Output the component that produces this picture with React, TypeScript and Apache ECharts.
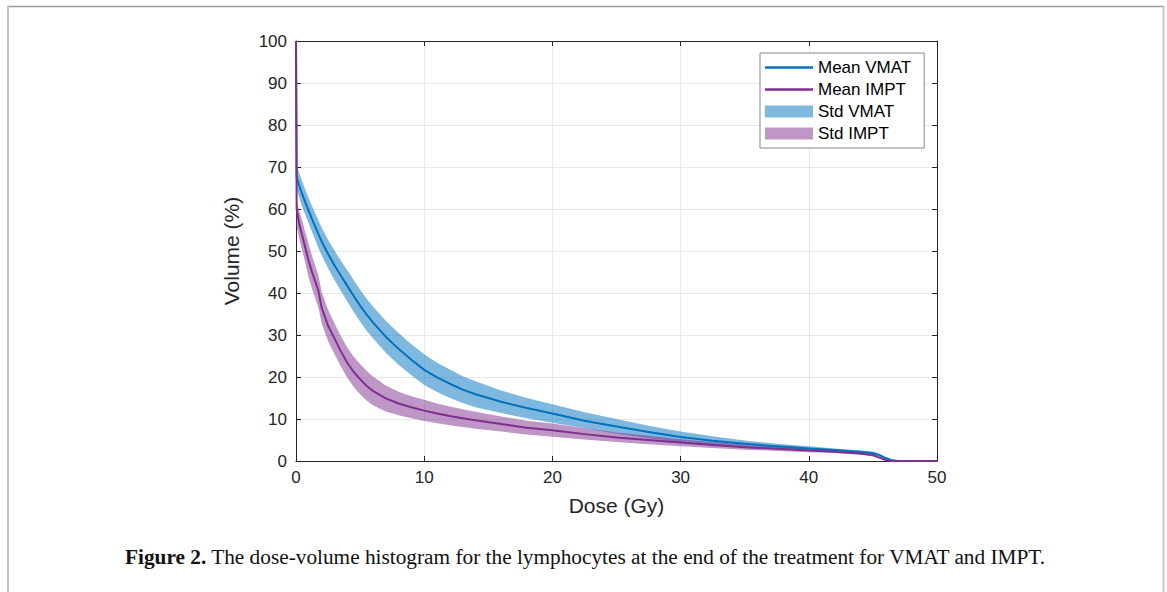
import React, { useEffect, useRef } from "react";
import * as echarts from "echarts";

// Dose grid (Gy)
const DOSE = [0, 0.05, 0.25, 0.5, 0.75, 1, 1.25, 1.5, 1.75, 2, 2.5, 3, 3.5, 4, 4.5, 5, 5.5, 6, 7, 8, 9, 10, 11, 12, 13, 14, 16, 18, 20, 22.5, 25, 27.5, 30, 32.5, 35, 37.5, 40, 42, 44, 45, 45.5, 46, 46.5, 47, 48, 50];

// Volume (%)
const VMAT_MEAN = [100, 67.5, 65.6, 63.4, 61.4, 59.5, 57.6, 55.8, 54, 52.3, 49.3, 46.6, 44.1, 41.7, 39.3, 37, 34.9, 33, 29.6, 26.7, 24.1, 21.7, 19.9, 18.4, 17, 15.9, 14.1, 12.6, 11.3, 9.6, 8.2, 6.9, 5.7, 4.8, 4.1, 3.5, 3.0, 2.6, 2.2, 1.9, 1.4, 0.7, 0.15, 0, 0, 0];
const VMAT_UPPER = [70.3, 70.3, 68.5, 66.4, 64.4, 62.5, 60.7, 59, 57.3, 55.6, 52.7, 50.1, 47.7, 45.4, 43.1, 40.8, 38.7, 36.8, 33.4, 30.5, 27.8, 25.4, 23.4, 21.8, 20.2, 19, 16.8, 15, 13.5, 11.6, 10, 8.4, 7, 5.9, 4.9, 4.1, 3.5, 3, 2.5, 2.2, 1.7, 0.9, 0.25, 0, 0, 0];
const VMAT_LOWER = [64.7, 64.7, 62.7, 60.4, 58.4, 56.5, 54.5, 52.6, 50.7, 49, 45.9, 43.1, 40.5, 38, 35.5, 33.2, 31.1, 29.2, 25.8, 22.9, 20.4, 18.1, 16.4, 15, 13.8, 12.8, 11.4, 10.2, 9.1, 7.8, 6.5, 5.4, 4.5, 3.8, 3.3, 2.9, 2.5, 2.2, 1.9, 1.6, 1.1, 0.5, 0.05, 0, 0, 0];

const IMPT_MEAN = [100, 60, 56.5, 53.5, 50.5, 47.5, 45, 42.8, 40.5, 36.5, 32.2, 29.2, 26.1, 23.4, 21.2, 19.5, 17.9, 16.7, 14.9, 13.7, 12.8, 12, 11.3, 10.7, 10.2, 9.7, 8.8, 7.9, 7.3, 6.4, 5.6, 5, 4.4, 3.8, 3.3, 2.9, 2.5, 2.2, 1.8, 1.4, 0.8, 0.2, 0, 0, 0, 0];
const IMPT_UPPER = [62, 62, 59.5, 57, 54.2, 51.5, 48.8, 46.5, 44.2, 40.3, 36, 32.8, 29.7, 27, 24.8, 23.1, 21.5, 20.1, 18, 16.5, 15.4, 14.6, 13.7, 13, 12.3, 11.7, 10.6, 9.6, 8.9, 7.8, 6.8, 6, 5.2, 4.5, 3.9, 3.4, 2.9, 2.5, 2.1, 1.7, 1.0, 0.3, 0, 0, 0, 0];
const IMPT_LOWER = [56, 56, 53, 50, 46.8, 43.5, 41, 38.8, 36.5, 32.8, 28.6, 25.5, 22.5, 19.8, 17.6, 15.9, 14.4, 13.3, 11.8, 10.9, 10.2, 9.5, 9, 8.5, 8.1, 7.7, 7, 6.3, 5.8, 5.1, 4.5, 4, 3.5, 3.1, 2.7, 2.4, 2.1, 1.9, 1.5, 1.1, 0.6, 0.1, 0, 0, 0, 0];

const SERIES_NAMES = ["Mean VMAT", "Mean IMPT", "Std VMAT", "Std IMPT"];
const CAPTION_BOLD = "Figure 2.";
const CAPTION_TEXT = " The dose-volume histogram for the lymphocytes at the end of the treatment for VMAT and IMPT.";

const BLUE = "#0072BD";
const PURPLE = "#7E2F8E";
const AXIS = "#262626";
const SANS = "'Liberation Sans', Arial, Helvetica, sans-serif";
const SERIF = "'Liberation Serif', 'Times New Roman', serif";

const GRID = { left: 296, top: 41, right: 230, bottom: 131 };
const GRID_W = 1167 - GRID.left - GRID.right;
const GRID_H = 592 - GRID.top - GRID.bottom;

const zip = (xs: number[], ys: number[]) => xs.map((x, i) => [x, ys[i]]);

function bandSeries(name: string, lower: number[], upper: number[], color: string, z: number) {
  return {
    type: "custom",
    name,
    silent: true,
    clip: true,
    z,
    itemStyle: { color },
    encode: { x: 0, y: [1, 2] },
    data: DOSE.map((d, i) => [d, lower[i], upper[i]]),
    renderItem: (params: any, api: any) => {
      if (params.dataIndex !== 0) return null;
      const pts: number[][] = [];
      for (let i = 0; i < DOSE.length; i++) pts.push(api.coord([DOSE[i], upper[i]]));
      for (let i = DOSE.length - 1; i >= 0; i--) pts.push(api.coord([DOSE[i], lower[i]]));
      return {
        type: "polygon",
        shape: { points: pts },
        style: { fill: color, opacity: 0.5, stroke: "none" },
        silent: true,
      };
    },
  };
}

export default function App() {
  const ref = useRef<HTMLDivElement>(null);
  useEffect(() => {
    if (!ref.current) return;
    const chart = echarts.init(ref.current, undefined, { renderer: "svg" });
    const line = { show: true, onZero: false, lineStyle: { color: AXIS, width: 1 } };
    const noLine = { show: false, onZero: false };
    const noTick = { show: false };
    const tick = { show: true, length: 5, lineStyle: { color: AXIS, width: 1 } };
    const xRange = { type: "value" as const, min: 0, max: 50, interval: 10 };
    const yRange = { type: "value" as const, min: 0, max: 100, interval: 10 };
    // axes used only to draw inward-pointing ticks: placed on the opposite side with a negative offset
    const xTickAxis = (position: string) => ({
      ...xRange,
      position,
      offset: -GRID_H,
      axisLine: noLine,
      axisTick: tick,
      axisLabel: { show: false },
      splitLine: { show: false },
    });
    const yTickAxis = (position: string) => ({
      ...yRange,
      position,
      offset: -GRID_W,
      axisLine: noLine,
      axisTick: tick,
      axisLabel: { show: false },
      splitLine: { show: false },
    });
    chart.setOption({
      animation: false,
      backgroundColor: "#ffffff",
      title: {
        text: "{b|" + CAPTION_BOLD + "}" + CAPTION_TEXT,
        left: 125,
        top: 546,
        padding: 0,
        textStyle: {
          fontFamily: SERIF,
          fontSize: 21.3,
          fontWeight: "normal",
          color: "#111",
          rich: {
            b: { fontFamily: SERIF, fontSize: 21.3, fontWeight: "bold", color: "#111" },
          },
        },
      },
      grid: { ...GRID, containLabel: false },
      legend: {
        orient: "vertical",
        left: 760,
        top: 53,
        align: "left",
        padding: [6, 13, 6, 5],
        itemGap: 5,
        itemWidth: 48,
        itemHeight: 12,
        backgroundColor: "#ffffff",
        borderColor: "#888888",
        borderWidth: 1,
        borderRadius: 0,
        selectedMode: false,
        textStyle: { fontFamily: SANS, fontSize: 17, color: "#000" },
        data: [
          { name: SERIES_NAMES[0], icon: "path://M0,0H48V2.4H0Z", itemStyle: { color: BLUE, borderWidth: 0 } },
          { name: SERIES_NAMES[1], icon: "path://M0,0H48V2.4H0Z", itemStyle: { color: PURPLE, borderWidth: 0 } },
          { name: SERIES_NAMES[2], icon: "rect", itemStyle: { color: "#80b9de", borderWidth: 0, opacity: 1 } },
          { name: SERIES_NAMES[3], icon: "rect", itemStyle: { color: "#bf97c7", borderWidth: 0, opacity: 1 } },
        ],
      },
      xAxis: [
        {
          ...xRange,
          position: "bottom",
          name: "Dose (Gy)",
          nameLocation: "middle",
          nameGap: 34,
          nameTextStyle: { fontFamily: SANS, fontSize: 21, color: AXIS },
          axisLine: line,
          axisTick: noTick,
          axisLabel: { fontFamily: SANS, fontSize: 17, color: AXIS, margin: 8 },
          splitLine: { show: true, lineStyle: { color: "#e8e8e8", width: 1 } },
        },
        {
          ...xRange,
          position: "top",
          axisLine: line,
          axisTick: noTick,
          axisLabel: { show: false },
          splitLine: { show: false },
        },
        xTickAxis("top"),
        xTickAxis("bottom"),
      ],
      yAxis: [
        {
          ...yRange,
          position: "left",
          name: "Volume (%)",
          nameLocation: "middle",
          nameGap: 54,
          nameTextStyle: { fontFamily: SANS, fontSize: 21, color: AXIS },
          axisLine: line,
          axisTick: noTick,
          axisLabel: { fontFamily: SANS, fontSize: 17, color: AXIS, margin: 9 },
          splitLine: { show: true, lineStyle: { color: "#e8e8e8", width: 1 } },
        },
        {
          ...yRange,
          position: "right",
          axisLine: line,
          axisTick: noTick,
          axisLabel: { show: false },
          splitLine: { show: false },
        },
        yTickAxis("right"),
        yTickAxis("left"),
      ],
      series: [
        bandSeries(SERIES_NAMES[2], VMAT_LOWER, VMAT_UPPER, BLUE, 1),
        bandSeries(SERIES_NAMES[3], IMPT_LOWER, IMPT_UPPER, PURPLE, 2),
        {
          type: "line",
          name: SERIES_NAMES[0],
          data: zip(DOSE, VMAT_MEAN),
          symbol: "none",
          silent: true,
          itemStyle: { color: BLUE },
          lineStyle: { color: BLUE, width: 2, join: "round" },
          z: 3,
        },
        {
          type: "line",
          name: SERIES_NAMES[1],
          data: zip(DOSE, IMPT_MEAN),
          symbol: "none",
          silent: true,
          itemStyle: { color: PURPLE },
          lineStyle: { color: PURPLE, width: 2, join: "round" },
          z: 4,
        },
      ],
      graphic: [
        { type: "line", shape: { x1: 7, y1: 6.5, x2: 1164, y2: 6.5 }, style: { stroke: "#9a9a9a", lineWidth: 1.5 }, silent: true },
        { type: "line", shape: { x1: 8, y1: 6, x2: 8, y2: 592 }, style: { stroke: "#c6c6c6", lineWidth: 2 }, silent: true },
        { type: "line", shape: { x1: 1163.5, y1: 6, x2: 1163.5, y2: 592 }, style: { stroke: "#c6c6c6", lineWidth: 2 }, silent: true },
      ],
    });
    return () => chart.dispose();
  }, []);
  return (
    <div
      ref={ref}
      style={{ position: "fixed", left: 0, top: 0, width: 1167, height: 592, background: "#fff" }}
    />
  );
}
